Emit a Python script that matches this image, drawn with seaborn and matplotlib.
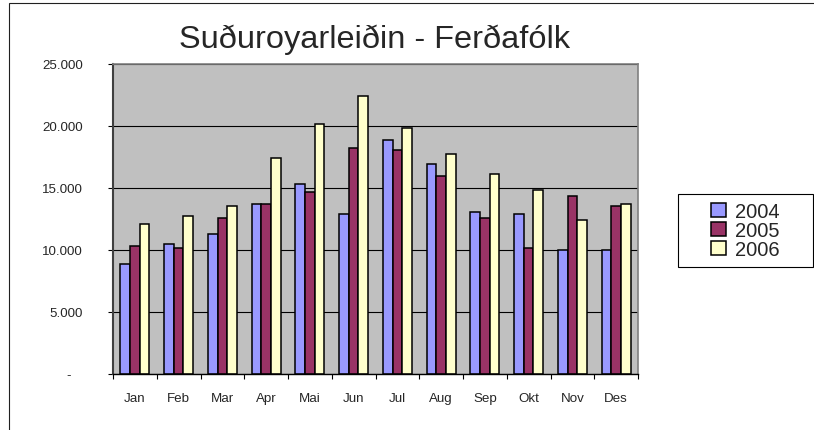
import matplotlib
matplotlib.use("Agg")
import matplotlib.pyplot as plt
from matplotlib.patches import Rectangle, Patch
import seaborn as sns
import pandas as pd

months = ["Jan", "Feb", "Mar", "Apr", "Mai", "Jun", "Jul", "Aug", "Sep", "Okt", "Nov", "Des"]
years = ["2004", "2005", "2006"]
v2004 = [8850, 10450, 11250, 13680, 15300, 12880, 18870, 16900, 13040, 12900, 9970, 9970]
v2005 = [10300, 10160, 12550, 13680, 14650, 18200, 18060, 15970, 12550, 10130, 14350, 13550]
v2006 = [12100, 12740, 13550, 17420, 20160, 22420, 19840, 17720, 16100, 14840, 12390, 13680]
ytick_vals = [0, 5000, 10000, 15000, 20000, 25000]
ytick_labels = ["-   ", "5.000", "10.000", "15.000", "20.000", "25.000"]
title = "Suðuroyarleiðin - Ferðafólk"
colors = ["#9999FF", "#993366", "#FFFFCC"]

df = pd.DataFrame({
    "Mánaður": months * 3,
    "Ár": [years[0]] * 12 + [years[1]] * 12 + [years[2]] * 12,
    "Ferðafólk": v2004 + v2005 + v2006,
})

sns.set_style("white")
plt.rcParams["font.family"] = ["Liberation Sans", "DejaVu Sans"]

W, H = 814, 431
fig = plt.figure(figsize=(W / 100, H / 100), dpi=100)
fig.patch.set_facecolor("white")

L, T, R, B = 113, 65, 638, 375
ax = fig.add_axes([L / W, 1 - B / H, (R - L) / W, (B - T) / H])
ax.set_facecolor("#C0C0C0")

sns.barplot(data=df, x="Mánaður", y="Ferðafólk", hue="Ár", order=months,
            hue_order=years, palette=colors, width=0.667, gap=0,
            edgecolor="black", linewidth=1.1, saturation=1, ax=ax, legend=False)

ax.set_xlim(-0.5, len(months) - 0.5)
ax.set_ylim(0, 25000)
ax.set_yticks(ytick_vals)
ax.set_yticklabels(ytick_labels)
ax.set_xlabel("")
ax.set_ylabel("")
ax.set_axisbelow(True)
ax.yaxis.grid(True, color="black", linewidth=0.8)
ax.xaxis.grid(False)

ax.tick_params(axis="y", which="major", direction="out", length=3.6, width=0.8,
               color="black", pad=18, labelsize=9.6, left=True)
ax.tick_params(axis="x", which="major", length=0, pad=13, labelsize=9.6)
ax.set_xticks([i + 0.5 for i in range(-1, len(months))], minor=True)
ax.tick_params(axis="x", which="minor", direction="out", length=3.6, width=0.8,
               color="black", bottom=True)

for side in ["top", "right"]:
    ax.spines[side].set_color("#808080")
    ax.spines[side].set_linewidth(1.2)
ax.spines["left"].set_color("#404040")
ax.spines["left"].set_linewidth(1.5)
ax.spines["bottom"].set_color("black")
ax.spines["bottom"].set_linewidth(1.0)

fig.text(375 / W, 1 - 40 / H, title, ha="center", va="center", fontsize=23.4)

# outer chart frame
fig.add_artist(Rectangle((9 / W, -0.1), 1.2, 1.1 - 4 / H, transform=fig.transFigure,
                         fill=False, edgecolor="#202020", linewidth=0.8))

# legend box
lx0, ly0, lx1, ly1 = 678, 195, 813, 268
fig.add_artist(Rectangle((lx0 / W, 1 - ly1 / H), (lx1 - lx0) / W, (ly1 - ly0) / H,
                         transform=fig.transFigure, fill=True, facecolor="white",
                         edgecolor="black", linewidth=0.8))
handles = [Patch(facecolor=c, edgecolor="black", linewidth=1.1) for c in colors]
fig.legend(handles, years, loc="center", bbox_to_anchor=((lx0 + lx1) / 2 / W, 1 - (ly0 + ly1) / 2 / H),
           frameon=False, fontsize=14.5, handlelength=0.75, handleheight=0.75,
           handletextpad=0.45, labelspacing=0.0, borderpad=0)

fig.savefig("out.png", dpi=100)
